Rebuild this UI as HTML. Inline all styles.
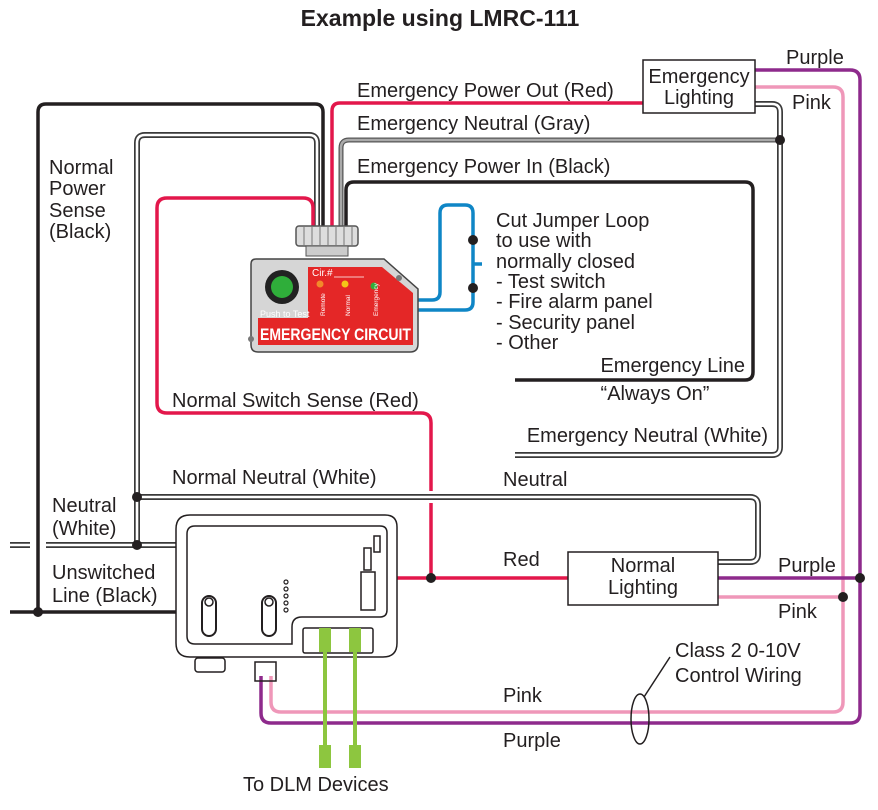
<!DOCTYPE html>
<html><head><meta charset="utf-8"><style>
html,body{margin:0;padding:0;background:#fff}
svg{display:block}
text{font-family:"Liberation Sans",sans-serif;fill:#231f20;font-size:20px}
</style></head><body>
<svg width="878" height="810" viewBox="0 0 878 810" xmlns="http://www.w3.org/2000/svg">
<text x="440" y="26" text-anchor="middle" font-weight="bold" style="font-size:23px">Example using LMRC-111</text>

<g fill="none" stroke-width="3.5" stroke-linejoin="round">
<path d="M755 70 H850 Q860 70 860 80 V713 Q860 723 850 723 H271 Q261 723 261 713 V676" stroke="#8e2a8c"/>
<path d="M755 87 H833 Q843 87 843 97 V702 Q843 712 833 712 H281 Q271 712 271 702 V676" stroke="#ef97b9"/>
<path d="M718 578 H860" stroke="#8e2a8c"/>
<path d="M718 597 H843" stroke="#ef97b9"/>
</g>

<g fill="none" stroke-linejoin="round">
<g stroke="#3a3a3a" stroke-width="6">
<path d="M137 545 V143 Q137 135 145 135 H309 Q317 135 317 143 V235"/>
<path d="M755 104 H772 Q780 104 780 112 V447 Q780 455 772 455 H515"/>
<path d="M137 497 H750 Q758 497 758 505 V554 Q758 562 750 562 H718"/>
<path d="M10 545 H30 M46 545 H180"/>
</g>
<g stroke="#fff" stroke-width="2.6">
<path d="M137 545 V143 Q137 135 145 135 H309 Q317 135 317 143 V235"/>
<path d="M755 104 H772 Q780 104 780 112 V447 Q780 455 772 455 H515"/>
<path d="M137 497 H750 Q758 497 758 505 V554 Q758 562 750 562 H718"/>
<path d="M10 545 H30 M46 545 H180"/>
</g>
<path d="M341 235 V148 Q341 140 349 140 H780" stroke="#555" stroke-width="5"/>
<path d="M341 235 V148 Q341 140 349 140 H780" stroke="#aaa" stroke-width="2.5"/>
</g>

<g fill="none" stroke="#231f20" stroke-width="3.5" stroke-linejoin="round">
<path d="M38 612 V112 Q38 104 46 104 H315 Q323 104 323 112 V235"/>
<path d="M346 235 V190 Q346 182 354 182 H745 Q753 182 753 190 V372 Q753 380 745 380 H515"/>
<path d="M10 612 H180"/>
</g>

<g fill="none" stroke="#e3174b" stroke-width="3.5" stroke-linejoin="round">
<path d="M332 235 V111 Q332 103 340 103 H643"/>
<path d="M313 235 V208 Q313 198 303 198 H167 Q157 198 157 208 V403 Q157 413 167 413 H421 Q431 413 431 423 V491 M431 503 V578"/>
<path d="M397 578 H568"/>
</g>

<g fill="none" stroke="#0f86c6" stroke-width="3.5" stroke-linejoin="round">
<path d="M415 300 H432 Q440 300 440 292 V213 Q440 205 448 205 H465 Q473 205 473 213 V302 Q473 310 465 310 H415"/>
<path d="M473 264 H482"/>
</g>

<g fill="#231f20">
<circle cx="473" cy="240" r="5"/><circle cx="473" cy="288" r="5"/>
<circle cx="780" cy="140" r="5"/>
<circle cx="137" cy="497" r="5"/><circle cx="137" cy="545" r="5"/>
<circle cx="38" cy="612" r="5"/><circle cx="431" cy="578" r="5"/>
<circle cx="860" cy="578" r="5"/><circle cx="843" cy="597" r="5"/>
</g>

<rect x="643" y="60" width="112" height="53" fill="#fff" stroke="#231f20" stroke-width="1.5"/>
<text x="699" y="83" text-anchor="middle">Emergency</text>
<text x="699" y="104" text-anchor="middle">Lighting</text>
<rect x="568" y="552" width="150" height="53" fill="#fff" stroke="#231f20" stroke-width="1.5"/>
<text x="643" y="572" text-anchor="middle">Normal</text>
<text x="643" y="594" text-anchor="middle">Lighting</text>

<g>
<rect x="296" y="226" width="62" height="20" rx="3" fill="#ddd" stroke="#555" stroke-width="1.5"/>
<g stroke="#777" stroke-width="1"><path d="M304 227 V245 M312 227 V245 M320 227 V245 M328 227 V245 M336 227 V245 M344 227 V245 M352 227 V245"/></g>
<rect x="306" y="246" width="42" height="10" fill="#ccc" stroke="#555"/>
<path d="M256 259 H384 L418 289 V344 Q418 352 410 352 H258 Q251 352 251 345 V264 Q251 259 256 259 Z" fill="#d6d6d6" stroke="#444" stroke-width="1.5"/>
<path d="M308 267 H382 L413 293 V345 H258 V318 H308 Z" fill="#e42727"/>
<circle cx="282" cy="287" r="17" fill="#222"/>
<circle cx="282" cy="287" r="11" fill="#2fae3a"/>
<circle cx="320" cy="284" r="3.5" fill="#f28a2a"/>
<circle cx="345" cy="284" r="3.5" fill="#f5c518"/>
<circle cx="374" cy="286" r="3.5" fill="#2fae3a"/>
<text x="312" y="276" style="font-size:10px;fill:#fff">Cir.#</text>
<path d="M334 277 H364" stroke="#fff" stroke-width="0.8"/>
<text x="260" y="317" style="font-size:9px;fill:#fff">Push to Test</text>
<text transform="translate(325,316) rotate(-90)" style="font-size:6.5px;fill:#fff">Remote</text>
<text transform="translate(350,316) rotate(-90)" style="font-size:6.5px;fill:#fff">Normal</text>
<text transform="translate(378,316) rotate(-90)" style="font-size:6.5px;fill:#fff">Emergency</text>
<text x="260" y="340" font-weight="bold" style="font-size:17px;fill:#fff" textLength="151" lengthAdjust="spacingAndGlyphs">EMERGENCY CIRCUIT</text>
<circle cx="251" cy="339" r="3" fill="#777"/><circle cx="399" cy="278" r="3" fill="#777"/>
</g>

<g fill="none" stroke="#231f20" stroke-width="1.5">
<path d="M190 515 H385 Q397 515 397 527 V643 Q397 657 383 657 H190 Q176 657 176 643 V529 Q176 515 190 515 Z" fill="#fff"/>
<path d="M195 526 H380 Q387 526 387 533 V610 Q387 617 380 617 H302 Q292 617 292 627 V644 H195 Q187 644 187 636 V534 Q187 526 195 526 Z"/>
<rect x="303" y="628" width="70" height="25" rx="2"/>
<rect x="202" y="596" width="14" height="40" rx="7" stroke-width="2"/>
<circle cx="209" cy="602" r="4"/>
<rect x="262" y="596" width="14" height="40" rx="7" stroke-width="2"/>
<circle cx="269" cy="602" r="4"/>
<rect x="361" y="572" width="14" height="38"/>
<rect x="364" y="548" width="7" height="22"/>
<rect x="374" y="536" width="6" height="16"/>
<rect x="195" y="658" width="30" height="14" rx="3"/>
<rect x="255" y="662" width="21" height="19"/>
</g>
<g fill="none" stroke="#231f20" stroke-width="1.2">
<circle cx="286" cy="582" r="2"/><circle cx="286" cy="589" r="2"/><circle cx="286" cy="596" r="2"/><circle cx="286" cy="603" r="2"/><circle cx="286" cy="610" r="2"/>
</g>

<g fill="#8dc63f">
<rect x="323" y="628" width="4" height="140"/><rect x="353" y="628" width="4" height="140"/>
<rect x="319" y="628" width="12" height="24"/><rect x="349" y="628" width="12" height="24"/>
<rect x="319" y="745" width="12" height="23"/><rect x="349" y="745" width="12" height="23"/>
</g>

<ellipse cx="640" cy="719" rx="9" ry="25" fill="none" stroke="#231f20" stroke-width="1.5"/>
<path d="M644 697 L670 657" stroke="#231f20" stroke-width="1.5"/>

<text x="357" y="97">Emergency Power Out (Red)</text>
<text x="357" y="130">Emergency Neutral (Gray)</text>
<text x="357" y="173">Emergency Power In (Black)</text>
<text x="786" y="64">Purple</text>
<text x="792" y="109">Pink</text>
<text x="49" y="174">Normal</text>
<text x="49" y="195">Power</text>
<text x="49" y="217">Sense</text>
<text x="49" y="238">(Black)</text>
<text x="496" y="227">Cut Jumper Loop</text>
<text x="496" y="247">to use with</text>
<text x="496" y="268">normally closed</text>
<text x="496" y="288">- Test switch</text>
<text x="496" y="308">- Fire alarm panel</text>
<text x="496" y="329">- Security panel</text>
<text x="496" y="349">- Other</text>
<text x="745" y="372" text-anchor="end">Emergency Line</text>
<text x="655" y="400" text-anchor="middle">“Always On”</text>
<text x="768" y="442" text-anchor="end">Emergency Neutral (White)</text>
<text x="172" y="407">Normal Switch Sense (Red)</text>
<text x="172" y="484">Normal Neutral (White)</text>
<text x="503" y="486">Neutral</text>
<text x="52" y="512">Neutral</text>
<text x="52" y="535">(White)</text>
<text x="52" y="579">Unswitched</text>
<text x="52" y="602">Line (Black)</text>
<text x="503" y="566">Red</text>
<text x="778" y="572">Purple</text>
<text x="778" y="618">Pink</text>
<text x="675" y="657">Class 2 0-10V</text>
<text x="675" y="682">Control Wiring</text>
<text x="503" y="702">Pink</text>
<text x="503" y="747">Purple</text>
<text x="243" y="791">To DLM Devices</text>
</svg>
</body></html>
